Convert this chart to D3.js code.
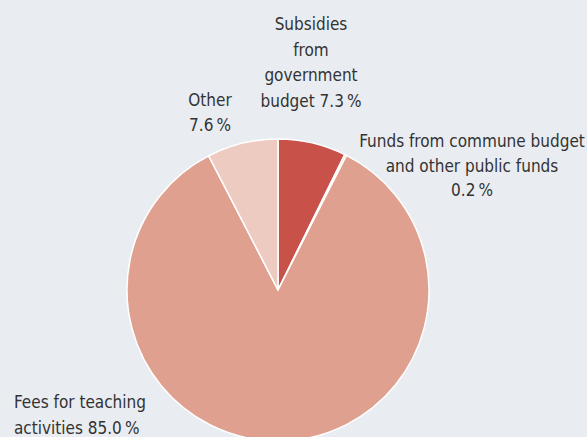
<!DOCTYPE html>
<html>
<head>
<meta charset="utf-8">
<script src="https://cdn.jsdelivr.net/npm/d3@7"></script>
<style>
  html, body { margin: 0; padding: 0; background: #e9edf1; }
  svg { display: block; }
  text { font-family: "Liberation Sans Narrow", "DejaVu Sans Condensed", sans-serif; fill: #333; }
</style>
</head>
<body>
<div id="chart"></div>
<script>
var labels = ['Subsidies from government budget', 'Funds from commune budget and other public funds', 'Fees for teaching activities', 'Other'];
var values = [7.3, 0.2, 85.0, 7.6];
var colors = ['#c8524a', '#e0a08f', '#e0a08f', '#eecbc1'];

var w = 587, h = 437, cx = 278, cy = 290, r = 151;

var svg = d3.select('#chart').append('svg').attr('width', w).attr('height', h);

var pie = d3.pie().sort(null).value(d => d);
var arc = d3.arc().innerRadius(0).outerRadius(r);

svg.append('g')
  .attr('transform', 'translate(' + cx + ',' + cy + ')')
  .selectAll('path')
  .data(pie(values))
  .enter()
  .append('path')
  .attr('d', arc)
  .attr('fill', (d, i) => colors[i])
  .attr('stroke', '#fff')
  .attr('stroke-width', 1.5);

var fmt = d3.format('.1f');

// label blocks: lines, anchor, x, first baseline, line height
var labelBlocks = [
  { lines: ['Subsidies', 'from', 'government', 'budget ' + fmt(values[0]) + '\u2009%'], anchor: 'middle', x: 311, y: 30, lh: 25.7 },
  { lines: ['Funds from commune budget', 'and other public funds', fmt(values[1]) + '\u2009%'], anchor: 'middle', x: 472, y: 147, lh: 24.5 },
  { lines: ['Fees for teaching', 'activities ' + fmt(values[2]) + '\u2009%'], anchor: 'start', x: 14, y: 408, lh: 25.5 },
  { lines: ['Other', fmt(values[3]) + '\u2009%'], anchor: 'middle', x: 210, y: 106, lh: 24.5 }
];

labelBlocks.forEach(function (b) {
  var t = svg.append('text')
    .attr('text-anchor', b.anchor)
    .attr('font-size', 17);
  b.lines.forEach(function (l, i) {
    t.append('tspan').attr('x', b.x).attr('y', b.y + i * b.lh).text(l);
  });
});
</script>
</body>
</html>
